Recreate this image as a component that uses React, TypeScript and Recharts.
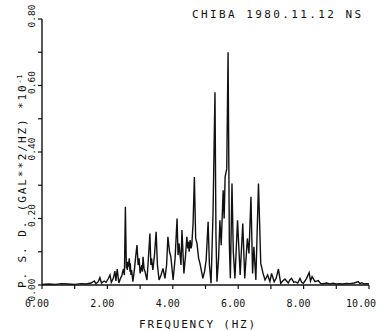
import React from 'react';
import { LineChart, Line, XAxis, YAxis, Customized } from 'recharts';

const freqs = [
  0.0, 0.2, 0.4, 0.6, 0.8, 1.0, 1.2, 1.35, 1.5, 1.6, 1.65, 1.72, 1.77, 1.82, 1.9, 1.96,
  2.02, 2.08, 2.12, 2.18, 2.23, 2.26, 2.3, 2.35, 2.4, 2.44, 2.49, 2.52, 2.55, 2.58, 2.6, 2.61,
  2.63, 2.64, 2.67, 2.69, 2.7, 2.72, 2.74, 2.78, 2.83, 2.87, 2.905, 2.94, 2.97, 3.0, 3.05, 3.07, 3.09, 3.12, 3.15, 3.21, 3.26,
  3.3, 3.33, 3.35, 3.39, 3.44, 3.49, 3.53, 3.58, 3.64, 3.7, 3.76, 3.81, 3.85, 3.9, 3.94, 4.01,
  4.07, 4.13, 4.16, 4.19, 4.25, 4.28, 4.34, 4.39, 4.43, 4.46, 4.48, 4.5, 4.53, 4.56, 4.58, 4.62, 4.66, 4.7, 4.74,
  4.79, 4.83, 4.88, 4.92, 4.97, 5.02, 5.08, 5.12, 5.17, 5.23, 5.29, 5.32, 5.35, 5.4, 5.44,
  5.48, 5.54, 5.57, 5.6, 5.65, 5.69, 5.73, 5.76, 5.81, 5.85, 5.9, 5.98, 6.06, 6.14, 6.2,
  6.28, 6.33, 6.39, 6.44, 6.48, 6.54, 6.62, 6.69, 6.76, 6.82, 6.9, 6.97, 7.02, 7.1, 7.16,
  7.23, 7.3, 7.36, 7.43, 7.53, 7.58, 7.63, 7.7, 7.74, 7.82, 7.89, 7.94, 7.99, 8.04, 8.09,
  8.17, 8.21, 8.26, 8.35, 8.45, 8.52, 8.6, 8.7, 8.8, 8.9, 9.0, 9.1, 9.2, 9.3, 9.42, 9.55,
  9.67, 9.72, 9.78, 9.85, 9.93, 10.0,
];

const psd = [
  0.002, 0.003, 0.002, 0.004, 0.003, 0.002, 0.004, 0.003, 0.006, 0.012, 0.004, 0.01, 0.022, 0.006, 0.012, 0.008,
  0.018, 0.03, 0.008, 0.02, 0.042, 0.012, 0.048, 0.006, 0.02, 0.028, 0.048, 0.03, 0.235, 0.05, 0.07, 0.045,
  0.07, 0.055, 0.08, 0.04, 0.065, 0.03, 0.045, 0.01, 0.05, 0.09, 0.12, 0.06, 0.08, 0.035, 0.06, 0.04, 0.085, 0.05, 0.04, 0.015, 0.09,
  0.155, 0.06, 0.08, 0.045, 0.09, 0.16, 0.06, 0.015, 0.03, 0.05, 0.02, 0.06, 0.145, 0.1, 0.085, 0.015,
  0.08, 0.2, 0.09, 0.125, 0.06, 0.165, 0.035, 0.09, 0.145, 0.11, 0.13, 0.1, 0.135, 0.11, 0.12, 0.185, 0.325, 0.14, 0.125,
  0.08, 0.065, 0.04, 0.02, 0.04, 0.075, 0.19, 0.06, 0.005, 0.215, 0.58, 0.15, 0.01, 0.08, 0.195,
  0.12, 0.285, 0.2, 0.325, 0.35, 0.7, 0.12, 0.02, 0.305, 0.1, 0.02, 0.195, 0.03, 0.185, 0.02,
  0.14, 0.095, 0.265, 0.035, 0.115, 0.015, 0.305, 0.065, 0.035, 0.015, 0.03, 0.01, 0.035, 0.01, 0.02,
  0.048, 0.005, 0.012, 0.018, 0.006, 0.015, 0.02, 0.008, 0.01, 0.006, 0.02, 0.008, 0.005, 0.012, 0.02,
  0.037, 0.012, 0.025, 0.01, 0.013, 0.005, 0.004, 0.006, 0.003, 0.005, 0.003, 0.004, 0.003, 0.005, 0.004, 0.006,
  0.01, 0.004, 0.007, 0.003, 0.004, 0.003,
];

const xTicks = [0, 1, 2, 3, 4, 5, 6, 7, 8, 9, 10];
const yTicks = [0, 0.1, 0.2, 0.3, 0.4, 0.5, 0.6, 0.7, 0.8];
const yLabeled = [0, 0.2, 0.4, 0.6, 0.8];

const titleText = 'CHIBA 1980.11.12 NS';
const xLabelText = 'FREQUENCY (HZ)';
const yLabelText = 'P. S. D. (GAL**2/HZ) *10';
const yLabelExp = '-1';

const data = freqs.map((f, i) => ({ f, v: psd[i] }));

const FONT = '"DejaVu Sans Mono", "Liberation Mono", monospace';
const INK = '#111';

const XTick = (props: any) => {
  const { x, y, payload } = props;
  if (Math.round(payload.value) % 2 !== 0) return <g />;
  return (
    <text x={x + 7} y={y + 16} textAnchor="end" fontFamily={FONT} fontSize={10} fill={INK}>
      {payload.value.toFixed(2)}
    </text>
  );
};

const YTick = (props: any) => {
  const { x, y, payload } = props;
  const v = Math.round(payload.value * 10) / 10;
  if (!yLabeled.some((t) => Math.abs(t - v) < 1e-6)) return <g />;
  const cy = v === 0 ? y + 5 : y - 3;
  return (
    <text
      x={0}
      y={0}
      transform={`translate(${x - 1},${cy}) rotate(-90)`}
      textAnchor="middle"
      fontFamily={FONT}
      fontSize={9.5}
      fill={INK}
    >
      {v.toFixed(2)}
    </text>
  );
};

const Texts = () => (
  <g>
    <text x={192} y={18} fontFamily={FONT} fontSize={11} letterSpacing={2.4} fill={INK}>
      {titleText}
    </text>
    <text x={198} y={328} textAnchor="middle" fontFamily={FONT} fontSize={11} letterSpacing={1.8} fill={INK}>
      {xLabelText}
    </text>
    <text
      x={0}
      y={0}
      transform="translate(26,288) rotate(-90)"
      fontFamily={FONT}
      fontSize={11}
      letterSpacing={1.9}
      fill={INK}
    >
      {yLabelText}
      <tspan dy={-4} fontSize={7} letterSpacing={0.5}>{yLabelExp}</tspan>
    </text>
  </g>
);

export default function App() {
  return (
    <div style={{ position: 'absolute', left: 0, top: 0, background: '#fff' }}>
      <LineChart width={390} height={331} data={data} margin={{ top: 19, right: 21, left: 0, bottom: 0 }}>
        <XAxis
          dataKey="f"
          type="number"
          domain={[0, 10]}
          ticks={xTicks}
          tick={<XTick />}
          tickSize={4}
          height={46}
          interval={0}
          axisLine={{ stroke: INK, strokeWidth: 1.4 }}
          tickLine={{ stroke: INK, strokeWidth: 1.2 }}
        />
        <YAxis
          type="number"
          domain={[0, 0.8]}
          ticks={yTicks}
          tick={<YTick />}
          tickSize={4}
          width={42}
          interval={0}
          axisLine={{ stroke: INK, strokeWidth: 1.4 }}
          tickLine={{ stroke: INK, strokeWidth: 1.2 }}
        />
        <Line
          type="linear"
          dataKey="v"
          stroke={INK}
          strokeWidth={1.4}
          dot={false}
          isAnimationActive={false}
        />
        <Customized component={<Texts />} />
      </LineChart>
    </div>
  );
}
